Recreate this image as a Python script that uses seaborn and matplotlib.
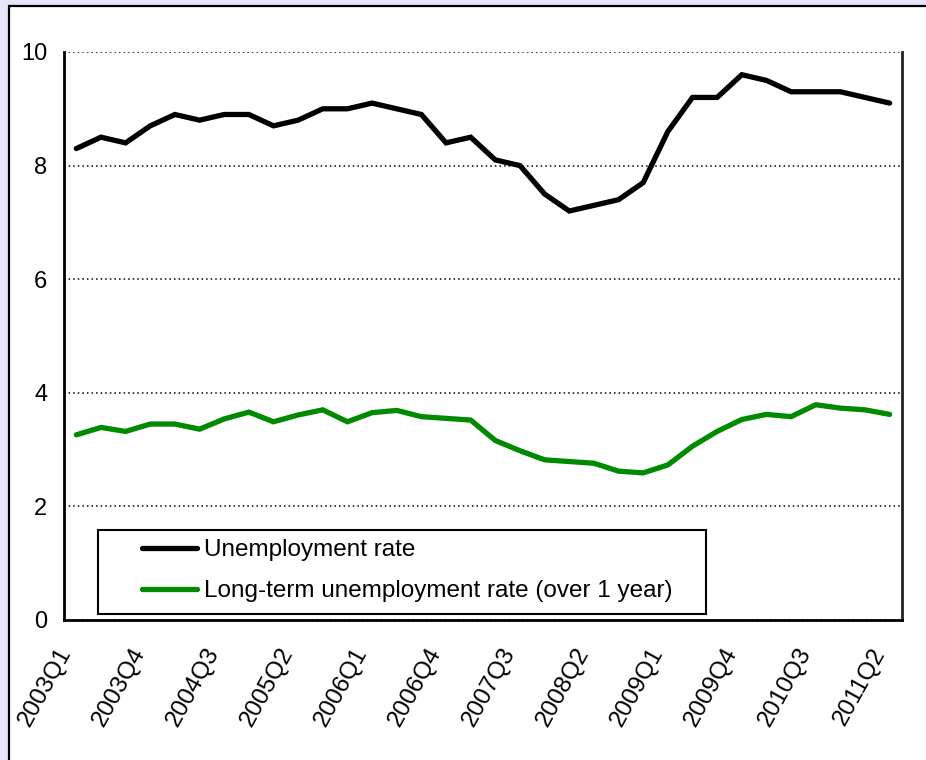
import numpy as np
import pandas as pd
import matplotlib
matplotlib.use("Agg")
import matplotlib.pyplot as plt
import matplotlib.transforms as mtransforms
from matplotlib.patches import Rectangle
import seaborn as sns

quarters = [f"{y}Q{q}" for y in range(2003, 2012) for q in range(1, 5)][:34]
unemployment = [8.3, 8.5, 8.4, 8.7, 8.9, 8.8, 8.9, 8.9, 8.7, 8.8, 9.0, 9.0,
                9.1, 9.0, 8.9, 8.4, 8.5, 8.1, 8.0, 7.5, 7.2, 7.3, 7.4, 7.7,
                8.6, 9.2, 9.2, 9.6, 9.5, 9.3, 9.3, 9.3, 9.2, 9.1]
long_term = [3.26, 3.39, 3.32, 3.45, 3.45, 3.36, 3.54, 3.66, 3.49, 3.61, 3.70, 3.49,
             3.65, 3.69, 3.58, 3.55, 3.52, 3.16, 2.98, 2.82, 2.79, 2.76, 2.62, 2.59,
             2.73, 3.06, 3.32, 3.53, 3.62, 3.58, 3.79, 3.73, 3.70, 3.62]
series_names = ["Unemployment rate", "Long-term unemployment rate (over 1 year)"]
yticks = [0, 2, 4, 6, 8, 10]

sns.set_theme(style="white")
plt.rcParams['font.family'] = ['Liberation Sans', 'DejaVu Sans']
plt.rcParams['text.color'] = 'black'
plt.rcParams['xtick.color'] = 'black'
plt.rcParams['ytick.color'] = 'black'
plt.rcParams['axes.labelcolor'] = 'black'

W, H = 926, 760
AX_L, AX_R, AX_T, AX_B = 64, 902, 52, 620
AW, AH = AX_R - AX_L, AX_B - AX_T

fig = plt.figure(figsize=(W / 100, H / 100), dpi=100, facecolor="#E6E6FA")
frame = Rectangle((8.5 / W, -0.05), 1.0, (H - 5.5) / H + 0.05,
                  transform=fig.transFigure, facecolor="white",
                  edgecolor="black", linewidth=1.6, zorder=-10)
fig.patches.append(frame)

ax = fig.add_axes([AX_L / W, 1 - AX_B / H, AW / W, AH / H], zorder=1)
ax.set_facecolor("white")

df = pd.DataFrame({
    "x": np.arange(len(quarters)).tolist() * 2,
    "value": unemployment + long_term,
    "series": [series_names[0]] * len(quarters) + [series_names[1]] * len(quarters),
})
sns.lineplot(data=df, x="x", y="value", hue="series",
             palette={series_names[0]: "black", series_names[1]: "#008A00"},
             linewidth=3.8, ax=ax, legend=True)
for ln in ax.get_lines():
    ln.set_solid_capstyle("round")
    ln.set_solid_joinstyle("miter")

ax.set_xlim(-0.5, len(quarters) - 0.5)
ax.set_ylim(0, 10)
ax.set_yticks(yticks)
ax.set_yticklabels([str(v) for v in yticks], fontsize=17, color="black")
ax.yaxis.grid(True, color="black", linestyle=(0, (1, 2)), linewidth=1.1)
ax.xaxis.grid(False)
ax.set_xlabel("")
ax.set_ylabel("")

label_pos = list(range(0, len(quarters), 3))
ax.set_xticks(label_pos)
ax.set_xticklabels([quarters[i] for i in label_pos], fontsize=17.5, color="black",
                   rotation=61, ha="right", va="center", rotation_mode="anchor")
ax.set_xticks(np.arange(-0.5, len(quarters), 1), minor=True)
ax.tick_params(axis="x", which="major", length=0, pad=21)
ax.tick_params(axis="x", which="minor", length=6, width=1.5, color="black", direction="out")
ax.tick_params(axis="y", which="major", length=6, width=1.5, color="black",
               direction="out", pad=6, labelsize=17)
offset = mtransforms.ScaledTranslation(-10 / 100, 0, fig.dpi_scale_trans)
for lab in ax.get_xticklabels():
    lab.set_transform(lab.get_transform() + offset)

for s in ["left", "bottom"]:
    ax.spines[s].set_color("black")
    ax.spines[s].set_linewidth(2)
ax.spines["right"].set_color("#222222")
ax.spines["right"].set_linewidth(2)
ax.spines["top"].set_visible(False)

# legend box
ax.add_patch(Rectangle(((98 - AX_L) / AW, (AX_B - 614) / AH), 608 / AW, 84 / AH,
                       transform=ax.transAxes, facecolor="white", edgecolor="black",
                       linewidth=1.5, zorder=5))
leg = ax.legend(loc="upper left",
                bbox_to_anchor=((142 - AX_L) / AW, (AX_B - 539) / AH),
                borderaxespad=0, borderpad=0, fontsize=17.5, frameon=False,
                handlelength=2.25, handletextpad=0.3, labelspacing=0.8,
                title=None, labelcolor="black")
leg.set_zorder(6)

fig.savefig("out.png", dpi=100, facecolor=fig.get_facecolor())
